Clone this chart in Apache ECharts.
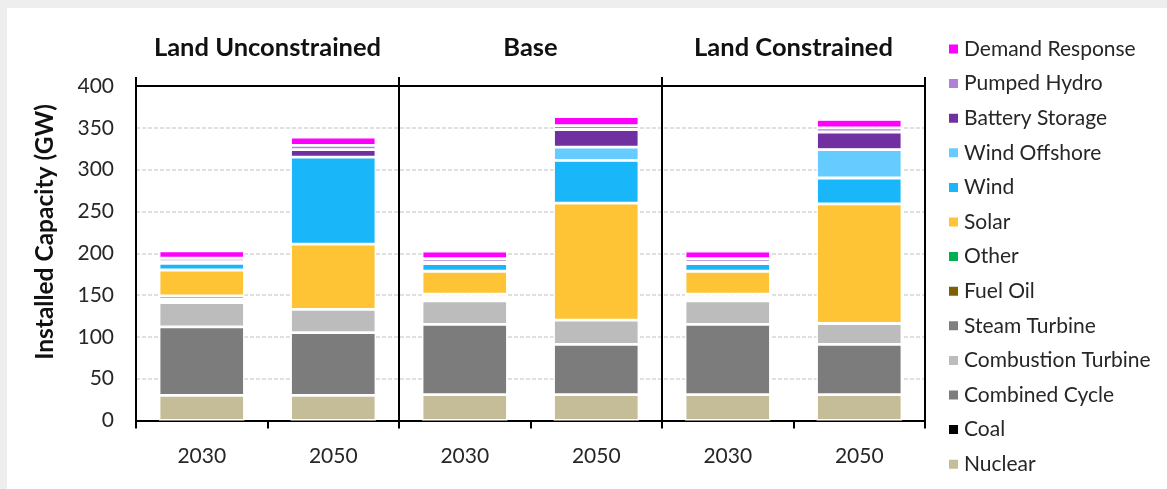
<!DOCTYPE html>
<html><head><meta charset="utf-8">
<script src="https://cdn.jsdelivr.net/npm/echarts@6/dist/echarts.min.js"></script>
<style>
html,body{margin:0;padding:0;background:#eeeeee;width:1167px;height:489px;overflow:hidden}
#frame{position:absolute;left:7px;top:8px;width:1160px;height:481px;background:#ffffff;}
#chart{width:1160px;height:481px}
</style></head><body><div id="frame"><div id="chart"></div></div>
<script>
// ---- data ----
const scenarios = ['Land Unconstrained', 'Base', 'Land Constrained'];
const categories = ['2030', '2050', '2030', '2050', '2030', '2050'];
const nuclear            = [30, 30, 31, 31, 31, 31];
const coal               = [0, 0, 0, 0, 0, 0];
const combinedCycle      = [82, 75, 84, 60, 84, 60];
const combustionTurbine  = [29, 28, 28, 29, 28, 25];
const steamTurbine       = [0, 0, 0, 0, 0, 0];
const fuelOil            = [0, 0, 0, 0, 0, 0];
const unlabeledGap       = [4, 0, 8, 0, 8, 0];
const other              = [4, 0, 0, 0, 0, 0];
const solar              = [31, 78, 27.5, 140, 27.5, 143];
const wind               = [8, 104, 9, 51, 9, 31];
const windOffshore       = [0, 0, 0, 16, 0, 34];
const batteryStorage     = [2, 9, 2, 21, 2, 21];
const pumpedHydro        = [4, 5, 4, 4.5, 4, 5];
const demandResponse     = [9, 10, 9, 11, 9, 10];
const yMin = 0, yMax = 400, yStep = 50;

// ---- styling ----
const FONT = 'Lato';
const TXT = '#262626';
const seriesDefs = [
  ['Nuclear', nuclear, '#c4bd97'],
  ['Coal', coal, '#000000'],
  ['Combined Cycle', combinedCycle, '#7c7c7c'],
  ['Combustion Turbine', combustionTurbine, '#bcbcbc'],
  ['Steam Turbine', steamTurbine, '#7f7f7f'],
  ['Fuel Oil', fuelOil, '#7f6000'],
  ['(unlabeled)', unlabeledGap, 'rgba(255,255,255,0)'],
  ['Other', other, '#00b050'],
  ['Solar', solar, '#ffc435'],
  ['Wind', wind, '#19b6fa'],
  ['Wind Offshore', windOffshore, '#66ccff'],
  ['Battery Storage', batteryStorage, '#7030a0'],
  ['Pumped Hydro', pumpedHydro, '#b07fda'],
  ['Demand Response', demandResponse, '#ff00ff']
];
const legendOrder = seriesDefs.filter(d => d[0] !== '(unlabeled)').map(d => d[0]).reverse();

const OX = 7, OY = 8;
const gLeft = 136 - OX, gTop = 86 - OY, gW = 925 - 136, gH = 420.5 - 86;

const chart = echarts.init(document.getElementById('chart'), null, {renderer: 'canvas'});
const panelW = gW / scenarios.length;
const graphics = scenarios.map((s, i) => ({
  type: 'text', x: gLeft + (i + 0.5) * panelW, y: 40,
  style: {text: s, font: 'bold 25.5px ' + FONT, fill: '#111', textAlign: 'center', textVerticalAlign: 'middle'}
}));
graphics.push({
  type: 'text', x: 38, y: 224, rotation: Math.PI / 2,
  style: {text: 'Installed Capacity (GW)', font: 'bold 24.5px ' + FONT, fill: '#111', textAlign: 'center', textVerticalAlign: 'middle'}
});

chart.setOption({
  animation: false,
  textStyle: {fontFamily: FONT},
  grid: {left: gLeft, top: gTop, width: gW, height: gH, containLabel: false},
  legend: {
    orient: 'vertical', left: 935, top: 25, data: legendOrder,
    itemWidth: 11, itemHeight: 11, itemGap: 12.6, icon: 'rect',
    textStyle: {fontSize: 21, color: TXT, fontFamily: FONT, lineHeight: 22},
    selectedMode: false
  },
  xAxis: [{
    type: 'category', data: categories, position: 'bottom',
    axisLine: {lineStyle: {color: '#000', width: 2}},
    axisTick: {show: true, interval: 0, length: 8, lineStyle: {color: '#000', width: 2}},
    axisLabel: {fontSize: 21, color: TXT, margin: 25, fontFamily: FONT},
    splitLine: {show: true, interval: (i) => i % 2 === 0, lineStyle: {color: '#000', width: 2}}
  }, {
    type: 'category', data: categories, position: 'top',
    axisLine: {lineStyle: {color: '#000', width: 2}},
    axisTick: {show: true, interval: (i) => i % 2 === 0, length: 9, lineStyle: {color: '#000', width: 2}},
    axisLabel: {show: false}
  }],
  yAxis: {
    type: 'value', min: yMin, max: yMax, interval: yStep,
    axisLine: {show: true, lineStyle: {color: '#000', width: 2}},
    axisTick: {show: false},
    axisLabel: {fontSize: 21, color: TXT, margin: 22, fontFamily: FONT},
    splitLine: {lineStyle: {color: '#d6d6d6', width: 1.5, type: [4, 2]}}
  },
  series: seriesDefs.map(([name, data, color]) => ({
    name, type: 'bar', stack: 'cap', data, barWidth: '65%', xAxisIndex: 0,
    itemStyle: {color, borderColor: '#ffffff', borderWidth: 1.4},
    emphasis: {disabled: true}
  })),
  graphic: graphics
});
</script></body></html>
